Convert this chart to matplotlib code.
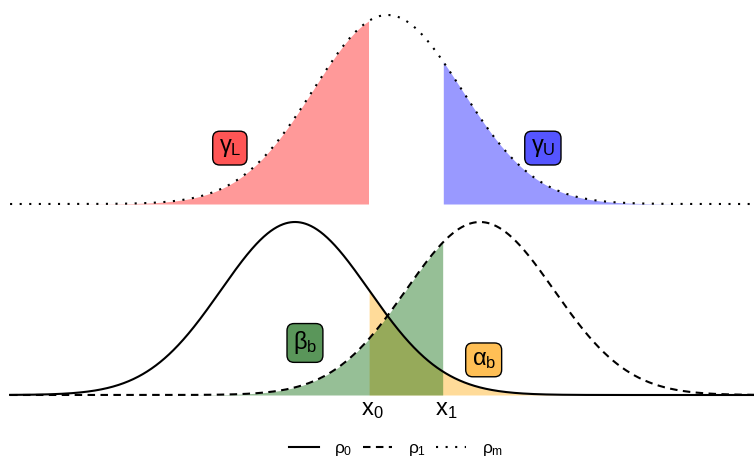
import numpy as np
import matplotlib
matplotlib.use("Agg")
import matplotlib.pyplot as plt

plt.rcParams['font.family'] = ['Liberation Sans', 'DejaVu Sans']
plt.rcParams['mathtext.fontset'] = 'custom'
plt.rcParams['mathtext.rm'] = 'Liberation Sans'
plt.rcParams['mathtext.it'] = 'Liberation Sans'
plt.rcParams['mathtext.bf'] = 'Liberation Sans:bold'

# distribution parameters
mu0, mu1, mum = 0.0, 2.5, 1.25
sigma = 1.0
x0, x1 = 1.0, 2.0
x_range = [-3.85, 6.25]

def pdf(x, mu, s):
    return np.exp(-0.5 * ((x - mu) / s) ** 2) / (s * np.sqrt(2 * np.pi))

x = np.linspace(x_range[0], x_range[1], 1200)
p0 = pdf(x, mu0, sigma)
p1 = pdf(x, mu1, sigma)
pm = pdf(x, mum, sigma)

W, H = 754, 458
fig = plt.figure(figsize=(W / 100, H / 100), dpi=100)
xlim = (-3.986, 6.203)
peak = pdf(0, 0, sigma)

# top axes
axt = fig.add_axes([0, (H - 204) / H, 1, (204 - 15) / H])
axt.set_xlim(*xlim)
axt.set_ylim(0, peak)
axt.axis('off')
axt.fill_between(x, 0, pm, where=x <= x0, color='#ff9999', lw=0, interpolate=True)
axt.fill_between(x, 0, pm, where=x >= x1, color='#9999ff', lw=0, interpolate=True)
axt.plot(x, pm, color='black', lw=1.5, ls=(0, (1, 3.6)), clip_on=False)

box_kw = dict(boxstyle='round,pad=0.25,rounding_size=0.3', ec='black', lw=1.0)
axt.text(-0.88, 0.118, r'$\gamma_\mathrm{L}$', fontsize=17, ha='center', va='center',
         bbox=dict(fc='#ff5555', **box_kw))
axt.text(3.35, 0.118, r'$\gamma_\mathrm{U}$', fontsize=17, ha='center', va='center',
         bbox=dict(fc='#5555ff', **box_kw))

# bottom axes
axb = fig.add_axes([0, (H - 395) / H, 1, (395 - 222) / H])
axb.set_xlim(*xlim)
axb.set_ylim(0, peak)
axb.axis('off')
axb.fill_between(x, 0, p0, where=x >= x0, color='#ffa500', alpha=0.4, lw=0, interpolate=True)
axb.fill_between(x, 0, p1, where=x <= x1, color='#006400', alpha=0.41, lw=0, interpolate=True)
l0, = axb.plot(x, p0, color='black', lw=1.5, ls='-', clip_on=False, label=r'$\rho_0$')
l1, = axb.plot(x, p1, color='black', lw=1.5, ls=(0, (3.6, 2.6)), clip_on=False, label=r'$\rho_1$')

axb.text(0.135, 0.12, r'$\beta_\mathrm{b}$', fontsize=17, ha='center', va='center',
         bbox=dict(fc='#5a965a', **box_kw))
axb.text(2.55, 0.081, r'$\alpha_\mathrm{b}$', fontsize=17, ha='center', va='center',
         bbox=dict(fc='#ffbf55', **box_kw))

axb.text(x0 + 0.04, -0.01, r'$\mathrm{x}_0$', fontsize=17, ha='center', va='top')
axb.text(x1 + 0.04, -0.01, r'$\mathrm{x}_1$', fontsize=17, ha='center', va='top')

lm, = axb.plot([], [], color='black', lw=1.5, ls=(0, (1, 3.6)), label=r'$\rho_\mathrm{m}$')

fig.legend(handles=[l0, l1, lm], loc='lower center', bbox_to_anchor=(0.525, -0.035),
           ncol=3, frameon=False, fontsize=12.5, handlelength=1.7, columnspacing=0.6,
           handletextpad=0.9)

fig.savefig('out.png', dpi=100)
